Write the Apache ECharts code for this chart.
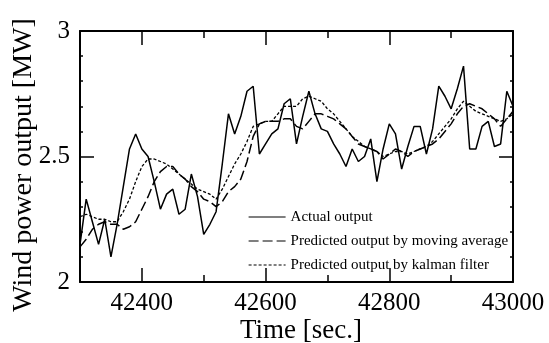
<!DOCTYPE html>
<html><head><meta charset="utf-8">
<script src="https://cdn.jsdelivr.net/npm/echarts@6/dist/echarts.min.js"></script>
<style>html,body{margin:0;padding:0;background:#fff}#c{width:549px;height:343px}</style>
</head><body><div id="c"></div>
<script>
const times = [42300,42310,42320,42330,42340,42350,42360,42370,42380,42390,
42400,42410,42420,42430,42440,42450,42460,42470,42480,42490,
42500,42510,42520,42530,42540,42550,42560,42570,42580,42590,
42600,42610,42620,42630,42640,42650,42660,42670,42680,42690,
42700,42710,42720,42730,42740,42750,42760,42770,42780,42790,
42800,42810,42820,42830,42840,42850,42860,42870,42880,42890,
42900,42910,42920,42930,42940,42950,42960,42970,42980,42990,43000];
const actual = [2.15,2.33,2.24,2.15,2.25,2.10,2.23,2.38,2.53,2.59,
2.53,2.50,2.40,2.29,2.35,2.37,2.27,2.29,2.43,2.34,
2.19,2.23,2.28,2.47,2.67,2.59,2.66,2.76,2.78,2.51,
2.55,2.59,2.61,2.71,2.73,2.55,2.66,2.76,2.67,2.61,
2.60,2.55,2.51,2.46,2.53,2.48,2.50,2.57,2.40,2.53,
2.63,2.59,2.45,2.54,2.62,2.62,2.51,2.61,2.78,2.74,
2.69,2.77,2.86,2.53,2.53,2.62,2.64,2.54,2.55,2.76,2.70];
const movingAvg = [2.14,2.17,2.21,2.23,2.24,2.23,2.23,2.21,2.22,2.24,
2.29,2.34,2.40,2.44,2.46,2.46,2.43,2.41,2.38,2.36,
2.33,2.32,2.30,2.32,2.36,2.38,2.41,2.48,2.58,2.63,
2.64,2.64,2.64,2.65,2.65,2.62,2.61,2.64,2.67,2.67,
2.66,2.65,2.63,2.61,2.58,2.55,2.54,2.53,2.52,2.49,
2.51,2.53,2.52,2.50,2.52,2.53,2.54,2.55,2.57,2.60,
2.63,2.67,2.70,2.71,2.70,2.69,2.67,2.65,2.62,2.65,2.68];
const kalman = [2.26,2.27,2.26,2.25,2.25,2.24,2.24,2.28,2.33,2.40,
2.46,2.49,2.49,2.48,2.47,2.45,2.43,2.41,2.39,2.37,
2.36,2.35,2.33,2.37,2.42,2.47,2.51,2.56,2.62,2.63,
2.64,2.64,2.67,2.70,2.70,2.70,2.73,2.74,2.73,2.72,
2.69,2.67,2.64,2.61,2.58,2.56,2.54,2.53,2.52,2.50,
2.51,2.52,2.52,2.51,2.52,2.53,2.54,2.56,2.59,2.62,
2.65,2.69,2.72,2.70,2.68,2.67,2.66,2.65,2.64,2.65,2.67];
const xLabelTicks = [42400,42600,42800,43000];
const xMajorTicks = [42400,42600,42800];
const yLabelTicks = [2,2.5,3];
const yMajorTicks = [2.5];
const seriesNames = ['Actual output','Predicted output by moving average','Predicted output by kalman filter'];

const F = 'Liberation Serif, Times New Roman, serif';
const pair = arr => times.map((t,i)=>[t,arr[i]]);
const baseX = {type:'value',min:42300,max:43000,interval:100,splitLine:{show:false}};
const baseY = {type:'value',min:2,max:3,interval:0.1,splitLine:{show:false}};
const line = {show:true,lineStyle:{color:'#000',width:2}};
const chart = echarts.init(document.getElementById('c'));
chart.setOption({
  animation:false,
  backgroundColor:'#fff',
  grid:{left:80,right:36,top:31,bottom:61},
  xAxis:[
    Object.assign({},baseX,{position:'bottom',axisLine:line,
      axisTick:{inside:true,length:7,lineStyle:{color:'#000',width:1.5}},
      axisLabel:{customValues:xLabelTicks,color:'#000',fontFamily:F,fontSize:25,margin:9,
        formatter:v=>String(v)}}),
    Object.assign({},baseX,{position:'bottom',axisLine:{show:false},
      axisTick:{inside:true,length:14,customValues:xMajorTicks,lineStyle:{color:'#000',width:1.5}},
      axisLabel:{show:false}}),
    Object.assign({},baseX,{position:'top',axisLine:line,
      axisTick:{inside:true,length:7,lineStyle:{color:'#000',width:1.5}},
      axisLabel:{show:false}}),
    Object.assign({},baseX,{position:'top',axisLine:{show:false},
      axisTick:{inside:true,length:14,customValues:xMajorTicks,lineStyle:{color:'#000',width:1.5}},
      axisLabel:{show:false}})
  ],
  yAxis:[
    Object.assign({},baseY,{position:'left',axisLine:line,
      axisTick:{inside:true,length:3,lineStyle:{color:'#000',width:1.5}},
      axisLabel:{customValues:yLabelTicks,color:'#000',fontFamily:F,fontSize:25,margin:10,
        formatter:v=>String(Math.round(v*10)/10)}}),
    Object.assign({},baseY,{position:'left',axisLine:{show:false},
      axisTick:{inside:true,length:14,customValues:yMajorTicks,lineStyle:{color:'#000',width:1.5}},
      axisLabel:{show:false}}),
    Object.assign({},baseY,{position:'right',axisLine:line,
      axisTick:{inside:true,length:3,lineStyle:{color:'#000',width:1.5}},
      axisLabel:{show:false}}),
    Object.assign({},baseY,{position:'right',axisLine:{show:false},
      axisTick:{inside:true,length:14,customValues:yMajorTicks,lineStyle:{color:'#000',width:1.5}},
      axisLabel:{show:false}})
  ],
  legend:{
    orient:'vertical',left:243,top:204,itemWidth:37,itemHeight:16,itemGap:8,
    itemStyle:{opacity:0},
    lineStyle:{width:1.2},
    textStyle:{fontFamily:F,fontSize:15,color:'#000',lineHeight:16},
    data:seriesNames
  },
  graphic:[
    {type:'text',position:[301,331],
      style:{text:'Time [sec.]',font:'27px '+F,fill:'#000',align:'center',verticalAlign:'middle'}},
    {type:'text',position:[24,165],rotation:Math.PI/2,
      style:{text:'Wind power output [MW]',font:'28px '+F,fill:'#000',align:'center',verticalAlign:'middle'}}
  ],
  series:[
    {name:seriesNames[0],type:'line',data:pair(actual),symbol:'none',
      lineStyle:{color:'#000',width:1.5,type:'solid'},itemStyle:{color:'#000'}},
    {name:seriesNames[1],type:'line',data:pair(movingAvg),symbol:'none',
      lineStyle:{color:'#000',width:1.5,type:[10,4]},itemStyle:{color:'#000'}},
    {name:seriesNames[2],type:'line',data:pair(kalman),symbol:'none',
      lineStyle:{color:'#000',width:1.3,type:[3,2]},itemStyle:{color:'#000'}}
  ]
});
</script></body></html>
